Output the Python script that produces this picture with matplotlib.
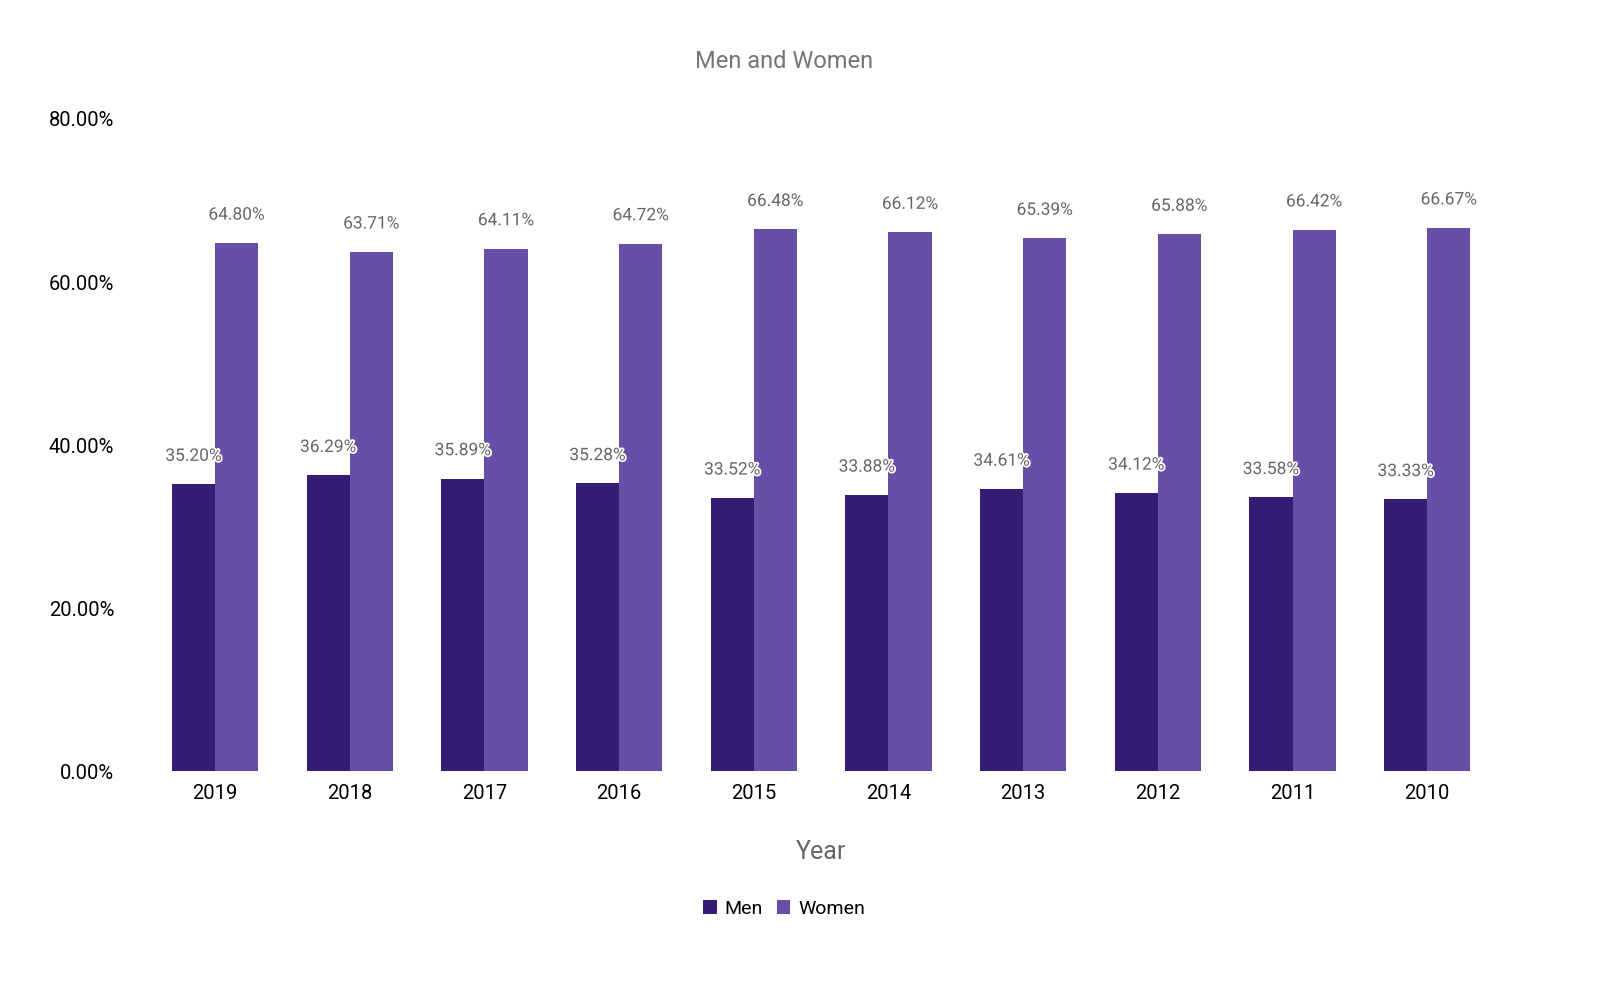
import numpy as np
import matplotlib.pyplot as plt
from matplotlib import patheffects as pe

years = ['2019', '2018', '2017', '2016', '2015', '2014', '2013', '2012', '2011', '2010']
men = [35.20, 36.29, 35.89, 35.28, 33.52, 33.88, 34.61, 34.12, 33.58, 33.33]
women = [64.80, 63.71, 64.11, 64.72, 66.48, 66.12, 65.39, 65.88, 66.42, 66.67]

plt.rcParams['font.family'] = ['Roboto', 'DejaVu Sans']

fig = plt.figure(figsize=(16, 9.9), dpi=100)
ax = fig.add_axes([0.0923, 0.2212, 0.8418, 0.6586])

x = np.arange(len(years))
w = 0.32
men_bars = ax.bar(x - w / 2, men, w, color='#351c75', label='Men')
women_bars = ax.bar(x + w / 2, women, w, color='#674ea7', label='Women')

# value labels above each bar, white halo like the original
halo = [pe.withStroke(linewidth=2.5, foreground='white')]
for bars, vals in ((men_bars, men), (women_bars, women)):
    for b, v in zip(bars, vals):
        ax.annotate(f'{v:.2f}%', (b.get_x() + b.get_width() / 2, v),
                    xytext=(0, 20), textcoords='offset points',
                    ha='center', va='center', fontsize=12.5, color='#666666',
                    path_effects=halo)

ax.set_xlim(-0.5, len(years) - 0.5)
ax.set_ylim(0, 80)
ax.set_yticks([0, 20, 40, 60, 80])
ax.set_yticklabels([f'{t:.2f}%' for t in [0, 20, 40, 60, 80]])
ax.set_xticks(x)
ax.set_xticklabels(years)
ax.tick_params(axis='both', length=0, labelsize=14.5, colors='black')
ax.tick_params(axis='y', pad=24)
ax.tick_params(axis='x', pad=9)
for s in ax.spines.values():
    s.set_visible(False)

ax.set_xlabel('Year', fontsize=18, color='#666666', labelpad=27)
fig.text(0.49, 1 - 62 / 990, 'Men and Women', ha='center', va='center',
         fontsize=17, color='#757575')

fig.legend(handles=[men_bars, women_bars], loc='center',
           bbox_to_anchor=(0.49, 1 - 909 / 990), ncol=2, frameon=False,
           fontsize=14, handlelength=0.7, handleheight=0.7,
           handletextpad=0.4, columnspacing=0.7)

fig.savefig('out.png', dpi=100, facecolor='white')
